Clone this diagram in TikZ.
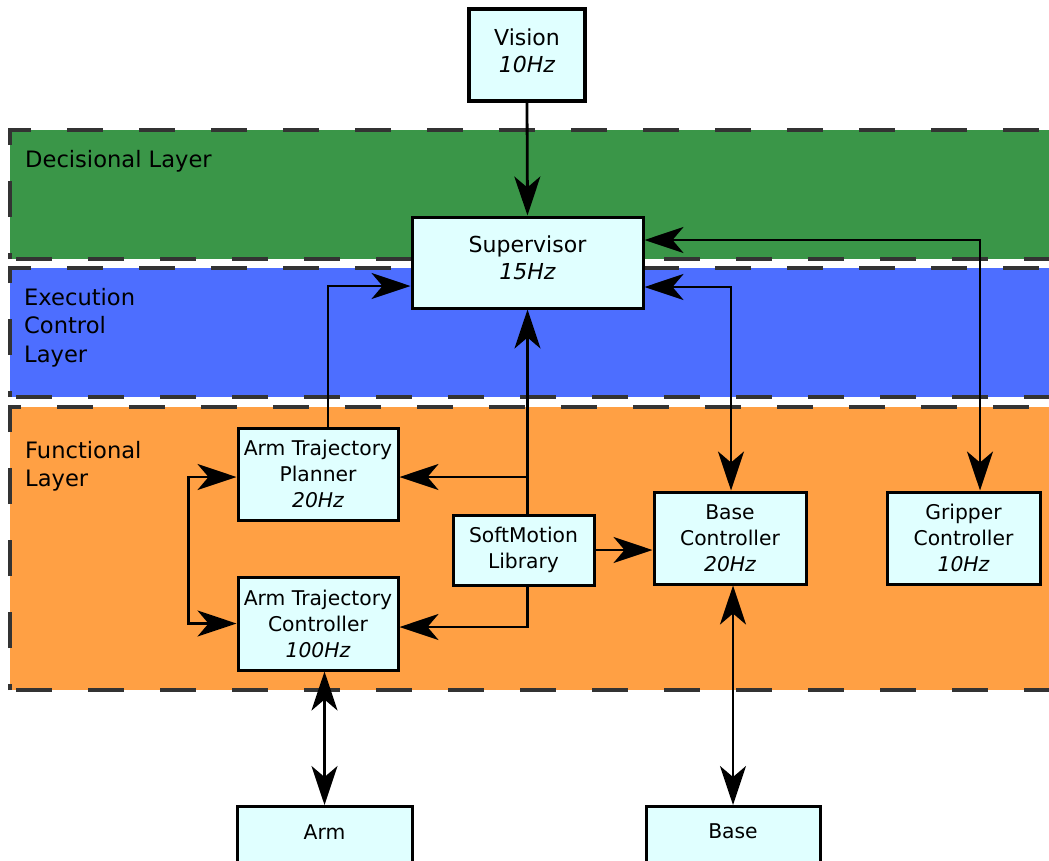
\documentclass[tikz,border=0pt]{standalone}
\usepackage{fontspec}
\setmainfont{DejaVu Sans}
\usetikzlibrary{arrows.meta}
\definecolor{boxfill}{RGB}{224,255,255}
\definecolor{decgreen}{RGB}{58,150,72}
\definecolor{exeblue}{RGB}{77,110,255}
\definecolor{funorange}{RGB}{255,160,68}
\definecolor{dashgray}{RGB}{51,51,51}
\tikzset{
  blk/.style={draw=black, line width=3pt, fill=boxfill, align=center, inner sep=0pt,
    font=\fontsize{20.3}{26}\selectfont},
  bigblk/.style={blk, font=\fontsize{22}{27}\selectfont},
  layerborder/.style={draw=dashgray, line width=3.5pt, dash pattern=on 36pt off 36pt},
  layerlabel/.style={anchor=north west, align=left, inner sep=0pt, font=\fontsize{22.6}{28.5}\selectfont},
  conn/.style={line width=2.8pt, draw=black},
  tipA/.tip={Stealth[length=39pt, width=26pt, inset=11pt]},
  arr/.style={conn, -tipA},
  both/.style={conn, tipA-tipA},
}
\begin{document}
\begin{tikzpicture}[x=1pt, y=-1pt]
\useasboundingbox (0,0) rectangle (1049,860);
% layers
\fill[decgreen] (10,130) rectangle (1070,259);
\fill[exeblue] (10,268) rectangle (1070,397);
\fill[funorange] (10,407) rectangle (1070,690);
\draw[layerborder, dash phase=30pt] (10,259) -- (10,130) -- (1070,130);
\draw[layerborder, dash phase=-6pt] (10,259) -- (1070,259);
\draw[layerborder, dash phase=30pt] (10,397) -- (10,268) -- (1070,268);
\draw[layerborder, dash phase=-6pt] (10,397) -- (1070,397);
\draw[layerborder, dash phase=30pt] (10,690) -- (10,407) -- (1070,407);
\draw[layerborder, dash phase=-6pt] (10,690) -- (1070,690);
\node[layerlabel] (ldec) at (25,150) {Decisional Layer};
\node[layerlabel] (lexe) at (24,288) {Execution\\Control\\Layer};
\node[layerlabel] (lfun) at (25,441) {Functional\\Layer};
% boxes
\node[bigblk, line width=3.5pt, minimum width=116pt, minimum height=92pt] (vis) at (527,55) {Vision\\\itshape 10Hz\rule[-9pt]{0pt}{0pt}};
\node[bigblk, minimum width=231pt, minimum height=91pt] (sup) at (527.5,262.5) {Supervisor\\\itshape 15Hz\rule[-9pt]{0pt}{0pt}};
\node[blk, minimum width=160pt, minimum height=92pt] (atp) at (318,474) {Arm Trajectory\\Planner\\\itshape 20Hz};
\node[blk, minimum width=160pt, minimum height=93pt] (atc) at (318,623.5) {Arm Trajectory\\Controller\\\itshape 100Hz};
\node[blk, minimum width=141pt, minimum height=70pt] (sm) at (523.5,550) {SoftMotion\\Library};
\node[blk, minimum width=152pt, minimum height=92pt] (bc) at (730,538) {Base\\Controller\\\itshape 20Hz};
\node[blk, minimum width=153pt, minimum height=92pt] (grip) at (963.5,538) {Gripper\\Controller\\\itshape 10Hz};
\node[blk, minimum width=175pt, minimum height=70pt, anchor=north] (arm) at (324.5,805) {};
\node[blk, minimum width=174pt, minimum height=70pt, anchor=north] (base) at (733,805) {};
\node[font=\fontsize{20.3}{26}\selectfont] (armt) at (324.5,832) {Arm};
\node[font=\fontsize{20.3}{26}\selectfont] (baset) at (733,831) {Base};
% connectors
\draw[arr] (vis.south) -- (sup.north);
\draw[both] ([yshift=22.5pt]sup.east) -| ([xshift=16.5pt]grip.north);
\draw[both] ([yshift=-24.5pt]sup.east) -| ([xshift=1pt]bc.north);
\draw[arr] ([xshift=10pt]atp.north) |- ([yshift=-23.5pt]sup.west);
\draw[arr] ([xshift=4pt]sm.north) -- (sup.south);
\coordinate (j1) at (527.5,477);
\draw[arr] (j1) -- (atp.east |- j1);
\draw[arr] ([xshift=4pt]sm.south) |- ([yshift=-3.5pt]atc.east);
\draw[arr] (sm.east) -- (bc.west |- sm.east);
\draw[both] ([yshift=-3pt]atp.west) -- ++(-48,0) |- (atc.west);
\draw[both] (arm.north |- atc.south) -- (arm.north);
\draw[both] (base.north |- bc.south) -- (base.north);
\end{tikzpicture}
\end{document}
